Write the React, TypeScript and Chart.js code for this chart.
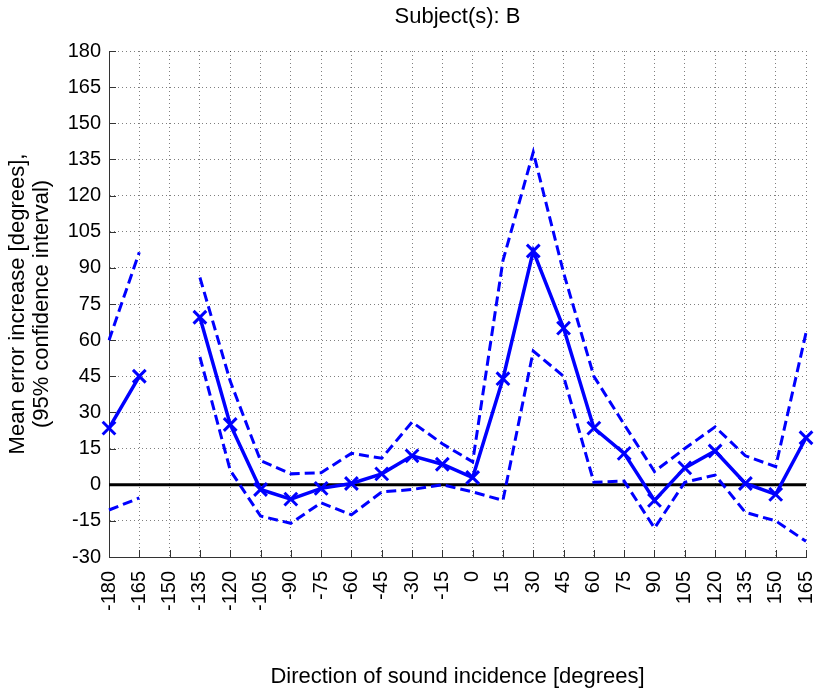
import React, { useEffect, useRef } from "react";
import { Chart, registerables } from "chart.js";

Chart.register(...registerables);

// ---- data ----
const directions: number[] = [
  -180, -165, -150, -135, -120, -105, -90, -75, -60, -45, -30, -15,
  0, 15, 30, 45, 60, 75, 90, 105, 120, 135, 150, 165,
];
const meanIncrease: (number | null)[] = [
  23.5, 45, null, 69.5, 25, -2, -6, -1.5, 0.5, 4.5, 12, 8.5,
  3, 44, 97, 65, 23.5, 13, -6.5, 7, 14, 0.5, -4, 19.5,
];
const upperCI: (number | null)[] = [
  60, 96.5, null, 86, 43, 10, 4.5, 5, 13, 11, 26, 17,
  9.5, 93, 138, 88, 45, 25, 5.5, 15, 24, 12, 7.5, 63,
];
const lowerCI: (number | null)[] = [
  -10.5, -5.5, null, 53, 6, -13, -16, -7.5, -12.5, -3, -2, 0,
  -3, -6.5, 55.5, 45, 1, 1.5, -18, 1, 4, -11.5, -15, -23.5,
];
const zeroLine: number[] = directions.map(() => 0);

const yMin = -30;
const yMax = 180;
const yStep = 15;

const titleText = "Subject(s): B";
const xTitle = "Direction of sound incidence [degrees]";
const yTitle = ["Mean error increase [degrees],", "(95% confidence interval)"];

const FONT = "'Liberation Sans', Arial, Helvetica, sans-serif";
const BLUE = "#0000ff";

const innerTicks = {
  id: "innerTicks",
  beforeDatasetsDraw(chart: any) {
    const { ctx, chartArea, scales } = chart;
    const xs = scales.x;
    const ys = scales.y;
    ctx.save();
    ctx.strokeStyle = "#333";
    ctx.lineWidth = 1;
    ctx.beginPath();
    ys.ticks.forEach((_t: any, i: number) => {
      const py = Math.round(ys.getPixelForTick(i)) + 0.5;
      ctx.moveTo(chartArea.left, py);
      ctx.lineTo(chartArea.left + 7, py);
    });
    xs.ticks.forEach((_t: any, i: number) => {
      const px = Math.round(xs.getPixelForTick(i)) + 0.5;
      ctx.moveTo(px, chartArea.bottom);
      ctx.lineTo(px, chartArea.bottom - 7);
    });
    ctx.stroke();
    ctx.restore();
  },
};

const centeredTitle = {
  id: "centeredTitle",
  afterDraw(chart: any) {
    const { ctx, chartArea } = chart;
    ctx.save();
    ctx.font = `22px ${FONT}`;
    ctx.fillStyle = "#000";
    ctx.textAlign = "center";
    ctx.textBaseline = "middle";
    ctx.fillText(titleText, (chartArea.left + chartArea.right) / 2, 17);
    ctx.restore();
  },
};

export default function App() {
  const canvasRef = useRef<HTMLCanvasElement | null>(null);

  useEffect(() => {
    if (!canvasRef.current) return;
    const chart = new Chart(canvasRef.current, {
      type: "line",
      data: {
        labels: directions.map(String),
        datasets: [
          {
            data: meanIncrease,
            borderColor: BLUE,
            borderWidth: 3.5,
            pointStyle: "crossRot",
            pointRadius: 9,
            pointBorderWidth: 3,
            pointBorderColor: BLUE,
            pointBackgroundColor: BLUE,
            spanGaps: false,
            tension: 0,
            order: 0,
          },
          {
            data: upperCI,
            borderColor: BLUE,
            borderWidth: 3,
            borderDash: [10, 5],
            pointRadius: 0,
            spanGaps: false,
            tension: 0,
            order: 1,
          },
          {
            data: lowerCI,
            borderColor: BLUE,
            borderWidth: 3,
            borderDash: [10, 5],
            pointRadius: 0,
            spanGaps: false,
            tension: 0,
            order: 2,
          },
          {
            data: zeroLine,
            borderColor: "#000",
            borderWidth: 3,
            pointRadius: 0,
            tension: 0,
            order: 10,
          },
        ],
      },
      options: {
        responsive: false,
        animation: false,
        layout: { padding: { top: 51, right: 14, left: 0, bottom: 0 } },
        plugins: {
          legend: { display: false },
          tooltip: { enabled: false },
          title: { display: false },
        },
        scales: {
          x: {
            type: "category",
            offset: false,
            afterFit: (s: any) => {
              s.height = 135;
              s.paddingLeft = 0;
              s.paddingRight = 0;
            },
            grid: {
              color: "rgba(0,0,0,0.5)",
              lineWidth: 1,
              drawTicks: false,
            },
            border: { display: true, color: "#333", width: 1, dash: [1, 3] },
            ticks: {
              autoSkip: false,
              maxRotation: 90,
              minRotation: 90,
              padding: 14,
              color: "#000",
              font: { family: FONT, size: 20 },
            },
            title: {
              display: true,
              text: xTitle,
              color: "#000",
              font: { family: FONT, size: 22 },
              padding: { top: 0, bottom: 2 },
            },
          },
          y: {
            min: yMin,
            max: yMax,
            afterFit: (s: any) => {
              s.width = 109;
            },
            grid: {
              color: "rgba(0,0,0,0.5)",
              lineWidth: 1,
              drawTicks: false,
            },
            border: { display: true, color: "#333", width: 1, dash: [1, 3] },
            ticks: {
              stepSize: yStep,
              padding: 8,
              color: "#000",
              font: { family: FONT, size: 20 },
            },
            title: {
              display: true,
              text: yTitle,
              color: "#000",
              font: { family: FONT, size: 22, lineHeight: 1.1 },
              padding: { top: 6, bottom: 0 },
            },
          },
        },
      },
      plugins: [innerTicks, centeredTitle],
    } as any);
    return () => chart.destroy();
  }, []);

  return (
    <div style={{ position: "fixed", left: 0, top: 0, width: 820, height: 692, background: "#fff" }}>
      <canvas ref={canvasRef} width={820} height={692} style={{ display: "block" }} />
    </div>
  );
}
